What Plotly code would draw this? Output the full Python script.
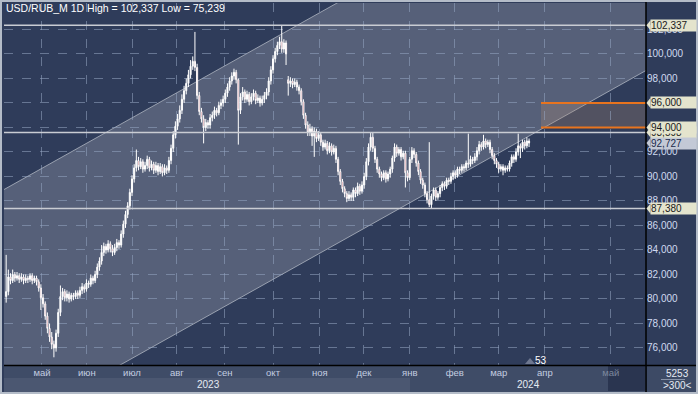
import plotly.graph_objects as go

# ---------------- data (daily candles, USD/RUB_M) ----------------
close = [80.6, 81.8, 81.5, 82.0, 81.7, 81.9, 81.6, 81.8, 81.5, 81.7,
         81.6, 81.9, 81.5, 81.7, 81.4, 80.9, 80.1, 79.6, 78.6, 77.6,
         76.9, 76.3, 76.0, 77.2, 78.9, 80.2, 80.6, 80.1, 80.4, 80.0,
         80.3, 80.2, 80.5, 80.3, 80.7, 81.0, 80.8, 81.3, 81.2, 81.7,
         81.5, 82.0, 82.6, 83.1, 83.8, 84.3, 84.0, 84.5, 84.1, 83.8,
         84.2, 84.6, 84.4, 85.3, 86.1, 86.9, 87.6, 88.7, 89.8, 90.7,
         91.3, 90.8, 91.2, 90.6, 90.9, 91.4, 90.7, 91.0, 90.5, 90.9,
         90.4, 90.8, 90.3, 90.7, 90.5, 91.3, 92.3, 93.4, 94.1, 94.7,
         95.4, 96.3, 97.0, 97.6, 98.3, 99.0, 99.4, 98.9, 96.6, 95.3,
         94.7, 94.0, 94.4, 94.2, 94.8, 95.0, 95.4, 95.2, 95.8, 96.0,
         96.3, 96.8, 97.3, 97.8, 98.2, 98.5, 97.9, 95.4, 96.5, 96.9,
         96.3, 96.7, 96.1, 96.5, 96.8, 96.2, 96.4, 96.0, 96.3, 96.6,
         96.9, 97.8, 98.7, 99.6, 100.2, 100.7, 101.0, 100.4, 100.9, 100.0,
         97.6, 97.8, 97.5, 97.7, 97.3, 97.0, 96.1, 95.0, 94.2, 93.6,
         93.9, 93.3, 93.7, 93.1, 93.4, 92.8, 92.4, 92.7, 92.1, 92.5,
         92.0, 92.3, 91.4, 90.4, 89.6, 89.0, 88.6, 88.2, 88.5, 88.3,
         88.9, 88.6, 89.2, 88.8, 89.3, 90.0, 91.2, 92.4, 93.2, 92.3,
         91.4, 90.6, 90.2, 89.9, 90.3, 89.8, 90.2, 90.6, 91.5, 92.4,
         91.9, 92.2, 91.6, 91.9, 90.3, 89.9, 91.4, 92.1, 91.8, 91.1,
         90.4, 89.7, 89.3, 88.6, 88.1, 87.7, 88.4, 88.9, 88.3, 88.6,
         89.1, 89.4, 89.2, 89.7, 89.6, 90.0, 90.3, 90.1, 90.6, 90.5,
         90.8, 90.7, 91.1, 91.0, 91.4, 91.3, 91.6, 92.1, 92.6, 92.4,
         92.9, 92.6, 92.8, 92.2, 91.7, 91.3, 91.0, 90.6, 90.8, 90.5,
         90.7, 90.6, 91.1, 91.6, 91.4, 92.0, 92.5, 92.3, 92.8, 92.5,
         92.9, 92.727]

open_ = [80.2, 80.6, 81.8, 81.5, 82.0, 81.7, 81.9, 81.6, 81.8, 81.5,
         81.7, 81.6, 81.9, 81.5, 81.7, 81.4, 80.9, 80.1, 79.6, 78.6,
         77.6, 76.9, 76.3, 76.0, 77.2, 78.9, 80.2, 80.6, 80.1, 80.4,
         80.0, 80.3, 80.2, 80.5, 80.3, 80.7, 81.0, 80.8, 81.3, 81.2,
         81.7, 81.5, 82.0, 82.6, 83.1, 83.8, 84.3, 84.0, 84.5, 84.1,
         83.8, 84.2, 84.6, 84.4, 85.3, 86.1, 86.9, 87.6, 88.7, 89.8,
         90.7, 91.3, 90.8, 91.2, 90.6, 90.9, 91.4, 90.7, 91.0, 90.5,
         90.9, 90.4, 90.8, 90.3, 90.7, 90.5, 91.3, 92.3, 93.4, 94.1,
         94.7, 95.4, 96.3, 97.0, 97.6, 98.3, 99.0, 99.4, 98.9, 96.6,
         95.3, 94.7, 94.0, 94.4, 94.2, 94.8, 95.0, 95.4, 95.2, 95.8,
         96.0, 96.3, 96.8, 97.3, 97.8, 98.2, 98.5, 97.9, 95.4, 96.5,
         96.9, 96.3, 96.7, 96.1, 96.5, 96.8, 96.2, 96.4, 96.0, 96.3,
         96.6, 96.9, 97.8, 98.7, 99.6, 100.2, 100.7, 101.0, 100.4, 100.9,
         97.9, 97.6, 97.8, 97.5, 97.7, 97.3, 97.0, 96.1, 95.0, 94.2,
         93.6, 93.9, 93.3, 93.7, 93.1, 93.4, 92.8, 92.4, 92.7, 92.1,
         92.5, 92.0, 92.3, 91.4, 90.4, 89.6, 89.0, 88.6, 88.2, 88.5,
         88.3, 88.9, 88.6, 89.2, 88.8, 89.3, 90.0, 91.2, 92.4, 93.2,
         92.3, 91.4, 90.6, 90.2, 89.9, 90.3, 89.8, 90.2, 90.6, 91.5,
         92.4, 91.9, 92.2, 91.6, 91.9, 90.3, 89.9, 91.4, 92.1, 91.8,
         91.1, 90.4, 89.7, 89.3, 88.6, 88.1, 87.7, 88.4, 88.9, 88.3,
         88.6, 89.1, 89.4, 89.2, 89.7, 89.6, 90.0, 90.3, 90.1, 90.6,
         90.5, 90.8, 90.7, 91.1, 91.0, 91.4, 91.3, 91.6, 92.1, 92.6,
         92.4, 92.9, 92.6, 92.8, 92.2, 91.7, 91.3, 91.0, 90.6, 90.8,
         90.5, 90.7, 90.6, 91.1, 91.6, 91.4, 92.0, 92.5, 92.3, 92.8,
         92.5, 92.9]

high = [83.6, 82.4, 82.1, 82.4, 82.2, 82.2, 82.1, 82.1, 82.0, 82.0,
        81.9, 82.1, 82.1, 81.9, 81.9, 81.6, 81.2, 80.4, 79.8, 78.9,
        78.0, 77.3, 76.6, 77.5, 79.2, 81.1, 80.9, 80.8, 80.7, 80.6,
        80.5, 80.5, 80.7, 80.7, 81.0, 81.3, 81.2, 81.6, 81.5, 82.0,
        81.9, 82.3, 82.9, 83.4, 84.4, 84.6, 84.5, 84.8, 84.7, 84.4,
        84.5, 84.9, 84.8, 85.6, 86.4, 87.2, 87.9, 89.0, 90.1, 91.0,
        92.2, 91.6, 91.5, 91.4, 91.2, 91.7, 91.6, 91.3, 91.2, 91.2,
        91.1, 91.1, 91.0, 91.0, 90.9, 91.6, 92.6, 93.7, 94.5, 95.1,
        95.8, 96.7, 97.4, 98.0, 98.7, 99.5, 99.8, 101.8, 99.2, 96.9,
        95.6, 95.0, 94.7, 94.6, 95.1, 95.3, 95.7, 95.6, 96.1, 96.3,
        96.6, 97.1, 97.6, 98.1, 98.5, 98.8, 98.7, 98.0, 96.8, 97.3,
        97.1, 97.0, 96.9, 96.8, 97.1, 97.0, 96.7, 96.6, 96.6, 96.9,
        97.2, 98.1, 99.0, 99.9, 100.5, 101.0, 101.4, 102.337, 101.2, 101.1,
        98.2, 98.1, 98.0, 98.0, 97.9, 97.5, 97.2, 96.3, 95.2, 94.5,
        94.3, 94.1, 94.0, 93.9, 93.7, 93.6, 93.0, 93.0, 92.9, 92.8,
        92.7, 92.6, 92.5, 91.6, 90.6, 89.8, 89.2, 88.8, 88.8, 88.7,
        89.1, 89.1, 89.5, 89.4, 89.6, 90.3, 91.5, 92.7, 93.6, 93.6,
        92.5, 91.6, 90.8, 90.4, 90.5, 90.5, 90.4, 90.8, 91.7, 92.7,
        92.6, 92.4, 92.4, 92.1, 92.1, 90.5, 91.6, 92.4, 92.3, 92.0,
        91.3, 90.6, 89.9, 89.5, 88.8, 92.8, 88.6, 89.1, 89.1, 88.8,
        89.3, 89.6, 89.6, 89.9, 89.9, 90.3, 90.5, 90.5, 90.8, 90.8,
        91.0, 91.0, 91.3, 93.5, 91.7, 91.6, 91.9, 92.4, 92.9, 92.8,
        93.4, 93.1, 93.0, 93.0, 92.4, 91.9, 91.5, 91.2, 91.0, 91.0,
        90.9, 90.9, 91.3, 91.8, 91.8, 92.3, 93.5, 92.7, 93.0, 93.0,
        93.2, 93.1]

low = [79.7, 80.3, 81.2, 81.3, 81.4, 81.5, 81.3, 81.4, 81.2, 81.3,
       81.3, 81.4, 81.2, 81.3, 81.1, 80.6, 79.1, 79.3, 78.3, 77.2,
       76.5, 75.9, 75.239, 75.7, 76.9, 78.6, 79.9, 79.8, 79.8, 79.7,
       79.8, 79.9, 80.0, 80.0, 80.1, 80.4, 80.5, 80.6, 80.9, 81.0,
       81.2, 81.3, 81.7, 82.3, 82.8, 83.5, 83.7, 83.8, 83.8, 83.5,
       83.6, 83.9, 84.1, 84.2, 85.0, 85.8, 86.6, 87.3, 88.4, 89.5,
       90.4, 90.5, 90.6, 90.3, 90.4, 90.6, 90.4, 90.5, 90.2, 90.3,
       90.1, 90.2, 90.0, 90.1, 90.2, 90.3, 91.0, 92.0, 93.1, 93.8,
       94.4, 95.1, 96.0, 96.7, 97.3, 98.0, 98.7, 98.6, 96.3, 95.0,
       94.4, 92.7, 93.7, 93.9, 93.9, 94.5, 94.7, 94.9, 95.0, 95.5,
       95.7, 96.0, 96.5, 97.0, 97.5, 97.9, 97.6, 92.6, 95.1, 96.2,
       96.0, 96.1, 95.8, 95.9, 96.2, 95.9, 96.0, 95.7, 95.8, 96.0,
       96.3, 96.6, 97.5, 98.4, 99.3, 99.9, 100.4, 100.1, 100.1, 99.1,
       96.6, 97.3, 97.2, 97.3, 97.0, 96.7, 95.8, 94.7, 93.9, 93.3,
       93.3, 92.5, 91.6, 92.8, 92.9, 92.5, 92.1, 92.2, 91.8, 91.9,
       91.7, 91.8, 91.1, 90.1, 89.3, 88.7, 88.3, 87.9, 88.0, 88.0,
       88.0, 88.3, 88.4, 88.5, 88.6, 89.0, 89.7, 90.9, 92.1, 92.0,
       91.1, 90.3, 89.9, 89.6, 89.7, 89.5, 89.6, 89.9, 90.3, 91.2,
       91.6, 91.7, 91.3, 91.4, 89.1, 89.6, 89.7, 91.1, 91.5, 90.8,
       90.1, 89.4, 89.0, 88.3, 87.8, 87.5, 87.4, 88.1, 88.0, 88.1,
       88.3, 88.8, 88.9, 89.0, 89.3, 89.4, 89.7, 89.8, 89.9, 90.2,
       90.3, 90.4, 90.5, 90.7, 90.8, 91.0, 91.1, 91.3, 91.8, 92.1,
       92.2, 92.3, 92.4, 91.9, 91.4, 91.0, 90.7, 90.3, 90.4, 90.1,
       90.3, 90.4, 90.4, 90.8, 91.1, 91.2, 91.7, 91.5, 92.0, 92.2,
       92.3, 92.4]

bars = list(range(1, len(close) + 1))

month_labels = ["май", "июн", "июл", "авг", "сен", "окт", "ноя",
                "дек", "янв", "фев", "мар", "апр", "май"]
month_pos = [17.5, 38.2, 59.0, 79.7, 101.8, 124.0, 145.6,
             165.9, 187.0, 207.8, 228.0, 249.3, 279.7]
year_labels = ["2023", "2024"]

y_ticks = list(range(76, 104, 2))

hi_val, lo_val = 102.337, 75.239
ref_levels = [102.337, 93.598, 87.380]
target_levels = [96.0, 94.0]
last_price = 92.727

# tick labels hidden completely behind the price tags are left blank
y_ticktext = ["" if v in target_levels else f"{v},000" for v in y_ticks]
# the last (future) month label is drawn dimmed
month_ticktext = month_labels[:-1] + [f'<span style="color:#7d889e">{month_labels[-1]}</span>']

# ---------------- layout geometry ----------------
X_MAX = 295.9
Y_MIN, Y_MAX = 74.61, 104.16
W, H = 698, 394
ML, MR, MT, MB = 4, 52, 3, 29
PW, PH = W - ML - MR, H - MT - MB

def px_x(px):   # pixel -> paper x
    return (px - ML) / PW

def px_y(py):   # pixel -> paper y
    return (H - MB - py) / PH

# channel (two parallel lines)
slope = 0.0992
up_anchor = (153.5, 104.16)
lo_anchor = (247.0, 93.80)

def upper(u):
    return up_anchor[1] + slope * (u - up_anchor[0])

def lower(u):
    return lo_anchor[1] + slope * (u - lo_anchor[0])

fig = go.Figure()
fig.add_trace(go.Candlestick(
    x=bars, open=open_, high=high, low=low, close=close,
    increasing=dict(line=dict(color="#ffffff", width=1), fillcolor="#ffffff"),
    decreasing=dict(line=dict(color="#ffffff", width=1), fillcolor="#c0394a"),
    whiskerwidth=0, hoverinfo="skip", showlegend=False,
))

shapes = []
# channel fill
shapes.append(dict(type="path", xref="x", yref="y", layer="below",
                   path=f"M 0,{upper(0)} L {X_MAX},{upper(X_MAX)} L {X_MAX},{lower(X_MAX)} L 0,{lower(0)} Z",
                   fillcolor="rgba(255,255,255,0.19)", line=dict(width=0)))
for f in (upper, lower):
    shapes.append(dict(type="line", xref="x", yref="y", layer="below",
                       x0=0, y0=f(0), x1=X_MAX, y1=f(X_MAX),
                       line=dict(color="rgba(190,195,205,0.7)", width=1)))
# target zone
tz_start = 247.5
shapes.append(dict(type="rect", xref="x", yref="y", layer="below",
                   x0=tz_start, x1=X_MAX, y0=target_levels[1], y1=target_levels[0],
                   fillcolor="rgba(175,140,115,0.28)", line=dict(width=0)))
for lv in target_levels:
    shapes.append(dict(type="line", xref="x", yref="y", x0=tz_start, x1=X_MAX,
                       y0=lv, y1=lv, line=dict(color="#e8741e", width=2)))
# reference horizontal lines
for lv in ref_levels:
    shapes.append(dict(type="line", xref="paper", yref="y", x0=0, x1=1,
                       y0=lv, y1=lv, line=dict(color="#c9ccd3", width=1.5)))

# bottom axis strips
shapes.append(dict(type="rect", xref="paper", yref="paper", layer="below",
                   x0=px_x(ML), x1=px_x(646), y0=px_y(366), y1=px_y(378),
                   fillcolor="#3f4c67", line=dict(width=0)))
shapes.append(dict(type="rect", xref="paper", yref="paper", layer="below",
                   x0=px_x(ML), x1=px_x(410), y0=px_y(378), y1=px_y(392),
                   fillcolor="#4b5771", line=dict(width=0)))
shapes.append(dict(type="rect", xref="paper", yref="paper", layer="below",
                   x0=px_x(410), x1=px_x(646), y0=px_y(378), y1=px_y(392),
                   fillcolor="#3f4c67", line=dict(width=0)))
shapes.append(dict(type="rect", xref="paper", yref="paper", layer="below",
                   x0=px_x(608), x1=px_x(645), y0=px_y(366), y1=px_y(391),
                   fillcolor="#2a3550", line=dict(width=0)))
# bottom-right info box
shapes.append(dict(type="rect", xref="paper", yref="paper", layer="below",
                   x0=px_x(647), x1=px_x(696), y0=px_y(366), y1=px_y(392),
                   fillcolor="#3d4a65", line=dict(width=0)))
shapes.append(dict(type="line", xref="paper", yref="paper",
                   x0=px_x(661), x1=px_x(685), y0=px_y(379.5), y1=px_y(379.5),
                   line=dict(color="#8994aa", width=1)))
# black frame lines
shapes.append(dict(type="line", xref="paper", yref="paper",
                   x0=px_x(646), x1=px_x(646), y0=px_y(2), y1=px_y(392),
                   line=dict(color="#000000", width=1.5)))
shapes.append(dict(type="line", xref="paper", yref="paper",
                   x0=px_x(ML), x1=px_x(697), y0=px_y(365.5), y1=px_y(365.5),
                   line=dict(color="#000000", width=1.5)))
# outer light frame
shapes.append(dict(type="rect", xref="paper", yref="paper",
                   x0=px_x(1), x1=px_x(697), y0=px_y(393), y1=px_y(1),
                   line=dict(color="#b4bcc8", width=2), fillcolor="rgba(0,0,0,0)"))
# small marker triangle near "53"
shapes.append(dict(type="path", xref="paper", yref="paper",
                   path=f"M {px_x(525)},{px_y(364)} L {px_x(535)},{px_y(364)} L {px_x(530)},{px_y(358)} Z",
                   fillcolor="#6f7890", line=dict(width=0)))

annotations = []
annotations.append(dict(xref="paper", yref="paper", x=px_x(4), y=px_y(8),
                        xanchor="left", yanchor="middle", showarrow=False,
                        text=f"USD/RUB_M 1D High = {hi_val:.3f} Low = {lo_val:.3f}".replace(".", ","),
                        font=dict(family="Liberation Sans", size=10.5, color="#ffffff")))
# year labels
for lbl, pxc in zip(year_labels, (208, 528)):
    annotations.append(dict(xref="paper", yref="paper", x=px_x(pxc), y=px_y(384.5),
                            xanchor="center", yanchor="middle",
                            showarrow=False, text=lbl,
                            font=dict(family="Liberation Sans", size=10, color="#e6ebf4")))
annotations.append(dict(xref="paper", yref="paper", x=px_x(541), y=px_y(360),
                        xanchor="center", yanchor="middle",
                        showarrow=False, text="53",
                        font=dict(family="Liberation Sans", size=10, color="#ffffff")))
annotations.append(dict(xref="paper", yref="paper", x=px_x(677), y=px_y(373),
                        xanchor="center", yanchor="middle",
                        showarrow=False, text="5253",
                        font=dict(family="Liberation Sans", size=10, color="#e6ebf4")))
annotations.append(dict(xref="paper", yref="paper", x=px_x(677), y=px_y(385.5),
                        xanchor="center", yanchor="middle",
                        showarrow=False, text="&gt;300&lt;",
                        font=dict(family="Liberation Sans", size=10, color="#e6ebf4")))

# price tags on the right axis (later ones drawn on top)
tags = [(93.598, "#e4e4cd", "#1a1a1a"), (96.0, "#e4e4cd", "#1a1a1a"),
        (94.0, "#e4e4cd", "#1a1a1a"), (102.337, "#e4e4cd", "#1a1a1a"),
        (87.380, "#e4e4cd", "#1a1a1a"), (last_price, "#c3c9d6", "#1a2a4a")]
for val, bg, fg in tags:
    txt = f"{val:.3f}".replace(".", ",")
    annotations.append(dict(xref="paper", yref="y", x=px_x(650), y=val,
                            xanchor="left", yanchor="middle", showarrow=False,
                            text=txt, bgcolor=bg, borderpad=0, width=45, height=11,
                            align="left",
                            font=dict(family="Liberation Sans", size=10, color=fg)))
    shapes.append(dict(type="path", xref="paper", yref="y",
                       path=f"M {px_x(646.5)},{val} L {px_x(650.5)},{val + 0.42} L {px_x(650.5)},{val - 0.42} Z",
                       fillcolor=bg, line=dict(width=0)))

fig.update_layout(
    width=W, height=H,
    margin=dict(l=ML, r=MR, t=MT, b=MB, autoexpand=False),
    paper_bgcolor="#2f3c5a", plot_bgcolor="#2f3c5a",
    shapes=shapes, annotations=annotations,
    showlegend=False, hovermode=False,
    xaxis=dict(range=[0, X_MAX], rangeslider=dict(visible=False), automargin=False,
               tickmode="array", tickvals=month_pos, ticktext=month_ticktext,
               showgrid=True, gridcolor="rgba(150,165,195,0.55)", griddash="dash",
               gridwidth=1, zeroline=False, showline=False, ticks="",
               tickfont=dict(family="Liberation Sans", size=9.5, color="#c3cde0"),
               fixedrange=True),
    yaxis=dict(range=[Y_MIN, Y_MAX], side="right", automargin=False,
               tickmode="array", tickvals=y_ticks, ticktext=y_ticktext,
               showgrid=True, gridcolor="rgba(150,165,195,0.55)", griddash="dash",
               gridwidth=1, zeroline=False, showline=False, ticks="",
               tickfont=dict(family="Liberation Sans", size=10, color="#cfdaf0"),
               fixedrange=True),
)

fig.write_html("out.html", config={"displayModeBar": False},
               post_script="document.body.style.margin='0';document.body.style.overflow='hidden';")
